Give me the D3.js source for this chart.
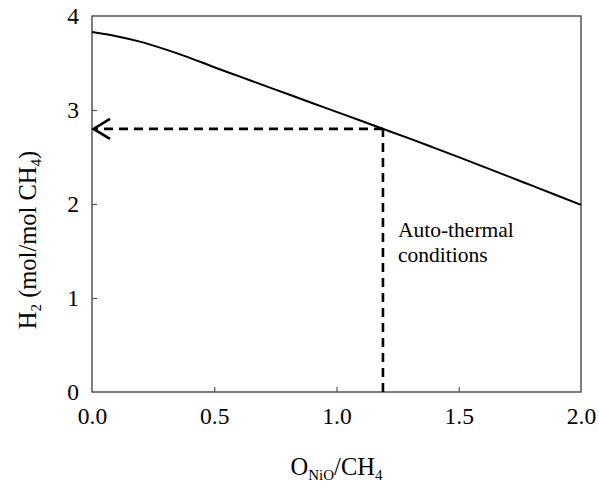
<!DOCTYPE html>
<html>
<head>
<meta charset="utf-8">
<script src="https://cdn.jsdelivr.net/npm/d3@7"></script>
<style>
  html, body { margin: 0; padding: 0; background: #fff; }
  svg { display: block; font-family: "Liberation Serif", "Times New Roman", serif; }
</style>
</head>
<body>
<svg id="chart" width="599" height="492"></svg>
<script>
// H2 yield versus O_NiO/CH4 ratio
const ratio = [0.0, 0.1, 0.2, 0.3, 0.4, 0.5, 0.6, 0.7, 0.8, 0.9, 1.0,
               1.1, 1.2, 1.3, 1.4, 1.5, 1.6, 1.7, 1.8, 1.9, 2.0];
const h2Yield = [3.83, 3.785, 3.725, 3.645, 3.555, 3.455, 3.36, 3.265, 3.17, 3.075, 2.98,
                 2.885, 2.79, 2.695, 2.597, 2.498, 2.398, 2.297, 2.195, 2.093, 1.99];
const xTicks = [0.0, 0.5, 1.0, 1.5, 2.0];
const yTicks = [0, 1, 2, 3, 4];
// auto-thermal operating point
const autoThermalX = [1.19];
const autoThermalY = [2.799];

const svg = d3.select("#chart");
const m = { left: 92, right: 581, top: 16, bottom: 392 };

const x = d3.scaleLinear().domain([0, 2]).range([m.left, m.right]);
const y = d3.scaleLinear().domain([0, 4]).range([m.bottom, m.top]);

// frame
svg.append("rect")
  .attr("x", m.left).attr("y", m.top)
  .attr("width", m.right - m.left).attr("height", m.bottom - m.top)
  .attr("fill", "none").attr("stroke", "#555").attr("stroke-width", 1.5);

// x axis: inward ticks, labels below
const xAxis = svg.append("g").attr("transform", `translate(0,${m.bottom})`)
  .call(d3.axisBottom(x).tickValues(xTicks).tickSizeInner(-5).tickSizeOuter(0)
    .tickPadding(15).tickFormat(d3.format(".1f")));
xAxis.attr("font-family", null).attr("font-size", null);
xAxis.select(".domain").remove();
xAxis.selectAll(".tick line").attr("stroke", "#555").attr("stroke-width", 1.2)
  .filter(d => d === 0 || d === 2).remove();
xAxis.selectAll(".tick text").attr("font-size", 23.5).attr("fill", "#000");

// y axis: inward ticks, labels left
const yAxis = svg.append("g").attr("transform", `translate(${m.left},0)`)
  .call(d3.axisLeft(y).tickValues(yTicks).tickSizeInner(-5).tickSizeOuter(0)
    .tickPadding(13).tickFormat(d3.format("d")));
yAxis.attr("font-family", null).attr("font-size", null);
yAxis.select(".domain").remove();
yAxis.selectAll(".tick line").attr("stroke", "#555").attr("stroke-width", 1.2)
  .filter(d => d === 0 || d === 4).remove();
yAxis.selectAll(".tick text").attr("font-size", 23.5).attr("fill", "#000");

// curve
const line = d3.line().x((d, i) => x(ratio[i])).y(d => y(d)).curve(d3.curveMonotoneX);
svg.append("path").datum(h2Yield)
  .attr("d", line).attr("fill", "none")
  .attr("stroke", "#000").attr("stroke-width", 2);

// dashed guides to the auto-thermal point
const px = x(autoThermalX[0]), py = y(autoThermalY[0]);
svg.append("line")
  .attr("x1", px).attr("y1", y(0)).attr("x2", px).attr("y2", py)
  .attr("stroke", "#000").attr("stroke-width", 2.6).attr("stroke-dasharray", "9,6");
svg.append("line")
  .attr("x1", px).attr("y1", py).attr("x2", x(0) + 2).attr("y2", py)
  .attr("stroke", "#000").attr("stroke-width", 2.6).attr("stroke-dasharray", "9,6");
// open arrow head at the y axis
svg.append("path")
  .attr("d", `M${x(0) + 18},${py - 10} L${x(0) + 1.5},${py} L${x(0) + 18},${py + 10}`)
  .attr("fill", "none").attr("stroke", "#000").attr("stroke-width", 2.6);

// annotation
const note = svg.append("text").attr("font-size", 21.5).attr("fill", "#000");
note.append("tspan").attr("x", px + 15).attr("y", 237).text("Auto-thermal");
note.append("tspan").attr("x", px + 15).attr("y", 262).text("conditions");

// x axis title
const xt = svg.append("text").attr("x", (m.left + m.right) / 2).attr("y", 475)
  .attr("text-anchor", "middle").attr("font-size", 24.5).attr("fill", "#000");
xt.append("tspan").text("O");
xt.append("tspan").attr("font-size", 15).attr("dy", 5).text("NiO");
xt.append("tspan").attr("dy", -5).text("/CH");
xt.append("tspan").attr("font-size", 15).attr("dy", 5).text("4");

// y axis title
const yt = svg.append("text")
  .attr("transform", "translate(36,240) rotate(-90)")
  .attr("text-anchor", "middle").attr("font-size", 24.5).attr("fill", "#000");
yt.append("tspan").text("H");
yt.append("tspan").attr("font-size", 15).attr("dy", 5).text("2");
yt.append("tspan").attr("dy", -5).text(" (mol/mol CH");
yt.append("tspan").attr("font-size", 15).attr("dy", 5).text("4");
yt.append("tspan").attr("dy", -5).text(")");
</script>
</body>
</html>
